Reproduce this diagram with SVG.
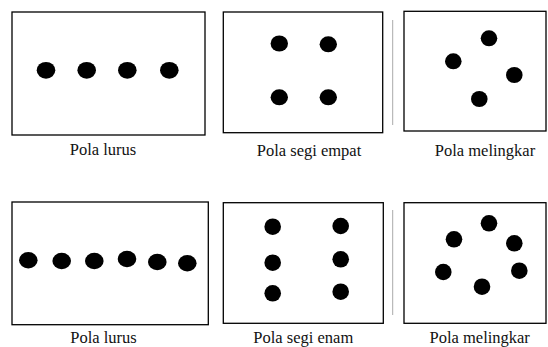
<svg xmlns="http://www.w3.org/2000/svg" width="548" height="347" viewBox="0 0 548 347">
<style>
.box{fill:#fff;stroke:#000;stroke-width:1.3}
.dot{fill:#000}
.lbl{font-family:"Liberation Serif","Times New Roman",serif;font-size:16.5px;fill:#111;text-anchor:middle}
.edge{stroke:#aaa;stroke-width:1}
</style>
<rect width="548" height="347" fill="#fff"/>
<g id="lurus1">
<rect class="box" x="12" y="12" width="193" height="123"/>
<ellipse class="dot" cx="46" cy="70.3" rx="9.3" ry="8.4"/>
<ellipse class="dot" cx="86.7" cy="70.3" rx="9.3" ry="8.4"/>
<ellipse class="dot" cx="127.3" cy="70.3" rx="9.3" ry="8.4"/>
<ellipse class="dot" cx="169.3" cy="70.3" rx="9.3" ry="8.4"/>
<text class="lbl" x="103" y="155">Pola lurus</text>
</g>
<g id="segiempat">
<rect class="box" x="223.3" y="12" width="159.4" height="120.7"/>
<ellipse class="dot" cx="279.3" cy="43.5" rx="8.7" ry="8"/>
<ellipse class="dot" cx="328.3" cy="44.3" rx="8.7" ry="8"/>
<ellipse class="dot" cx="279.3" cy="97.3" rx="8.7" ry="8"/>
<ellipse class="dot" cx="328.3" cy="97.3" rx="8.7" ry="8"/>
<text class="lbl" x="309" y="156">Pola segi empat</text>
</g>
<g id="melingkar1">
<rect class="box" x="404" y="11.3" width="142" height="119.7"/>
<ellipse class="dot" cx="489" cy="38.3" rx="8.3" ry="8"/>
<ellipse class="dot" cx="453.3" cy="61.3" rx="8.3" ry="8"/>
<ellipse class="dot" cx="514.3" cy="75" rx="8.3" ry="8"/>
<ellipse class="dot" cx="479.3" cy="99" rx="8.3" ry="8"/>
<text class="lbl" x="485" y="156">Pola melingkar</text>
</g>
<g id="lurus2">
<rect class="box" x="12" y="202" width="196.3" height="122.7"/>
<ellipse class="dot" cx="28.3" cy="260.3" rx="9.3" ry="8.2"/>
<ellipse class="dot" cx="61.7" cy="261" rx="9.3" ry="8.2"/>
<ellipse class="dot" cx="94.3" cy="261" rx="9.3" ry="8.2"/>
<ellipse class="dot" cx="127" cy="259" rx="9.3" ry="8.2"/>
<ellipse class="dot" cx="157.3" cy="262" rx="9.3" ry="8.2"/>
<ellipse class="dot" cx="187.3" cy="263.3" rx="9.3" ry="8.2"/>
<text class="lbl" x="103.5" y="343">Pola lurus</text>
</g>
<g id="segienam">
<rect class="box" x="223.3" y="202.7" width="160" height="120.6"/>
<ellipse class="dot" cx="272.7" cy="226.7" rx="8.3" ry="8.3"/>
<ellipse class="dot" cx="340.7" cy="226" rx="8.3" ry="8.3"/>
<ellipse class="dot" cx="272.7" cy="262.7" rx="8.3" ry="8.3"/>
<ellipse class="dot" cx="340.7" cy="259.3" rx="8.3" ry="8.3"/>
<ellipse class="dot" cx="272.7" cy="293.3" rx="8.3" ry="8.3"/>
<ellipse class="dot" cx="340.7" cy="291.7" rx="8.3" ry="8.3"/>
<text class="lbl" x="303.3" y="343">Pola segi enam</text>
</g>
<g id="melingkar2">
<rect class="box" x="404" y="202.7" width="142" height="120.6"/>
<ellipse class="dot" cx="489" cy="223.3" rx="8.3" ry="8.3"/>
<ellipse class="dot" cx="454" cy="239.3" rx="8.3" ry="8.3"/>
<ellipse class="dot" cx="514.3" cy="243.3" rx="8.3" ry="8.3"/>
<ellipse class="dot" cx="443.3" cy="272" rx="8.3" ry="8.3"/>
<ellipse class="dot" cx="519.3" cy="270.7" rx="8.3" ry="8.3"/>
<ellipse class="dot" cx="482" cy="286.7" rx="8.3" ry="8.3"/>
<text class="lbl" x="479.7" y="343">Pola melingkar</text>
</g>
<g id="connectors">
<line class="edge" x1="392.7" y1="20" x2="392.7" y2="125"/>
<line class="edge" x1="392.7" y1="210" x2="392.7" y2="315"/>
</g>
</svg>
